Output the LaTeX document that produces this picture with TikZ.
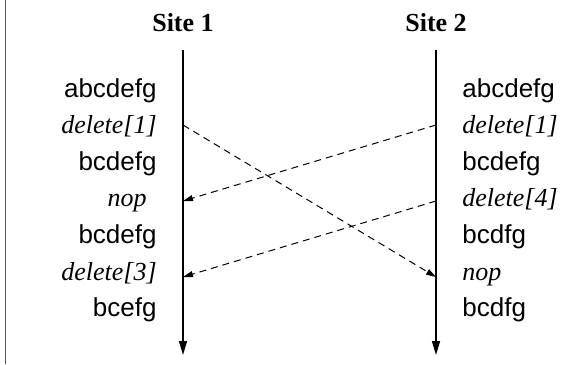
\documentclass[tikz,border=0pt]{standalone}
\usepackage{fontspec}
\setmainfont{Liberation Serif}
\setsansfont{Liberation Sans}
\usetikzlibrary{arrows.meta}
\begin{document}
\begin{tikzpicture}[x=0.5pt,y=-0.5pt,
  state/.style={inner sep=0pt,font=\sffamily\fontsize{13}{15}\selectfont},
  op/.style={inner sep=0pt,font=\itshape\fontsize{13}{15}\selectfont},
  title/.style={inner sep=0pt,font=\bfseries\fontsize{13}{15}\selectfont},
  timeline/.style={line width=0.75pt,-{Triangle[length=7pt,width=4pt]}},
  msg/.style={line width=0.5pt,dash pattern=on 3.5pt off 2.5pt,-{Triangle[length=5pt,width=3pt]}}]
\useasboundingbox (0,0) rectangle (566,364);
% frame edge on the left
\draw[line width=0.75pt,black!65] (5.5,0) -- (5.5,364);
% site headings
\node[title,anchor=base] (s1) at (183,32) {Site 1};
\node[title,anchor=base] (s2) at (436,32) {Site 2};
% time lines
\coordinate (t1) at (183,50);
\coordinate (b1) at (183,355);
\coordinate (t2) at (436,50);
\coordinate (b2) at (436,355);
\draw[timeline] (t1) -- (b1);
\draw[timeline] (t2) -- (b2);
% site 1 states and operations
\node[state,anchor=base east] (l1) at (157,97) {abcdefg};
\node[op,anchor=base east] (l2) at (157,133.6) {delete[1]};
\node[state,anchor=base east] (l3) at (157,170.2) {bcdefg};
\node[op,anchor=base east] (l4) at (147,206.8) {nop};
\node[state,anchor=base east] (l5) at (157,243.4) {bcdefg};
\node[op,anchor=base east] (l6) at (157,280) {delete[3]};
\node[state,anchor=base east] (l7) at (157,316.6) {bcefg};
% site 2 states and operations
\node[state,anchor=base west] (r1) at (462,97) {abcdefg};
\node[op,anchor=base west] (r2) at (462,133.6) {delete[1]};
\node[state,anchor=base west] (r3) at (462,170.2) {bcdefg};
\node[op,anchor=base west] (r4) at (462,206.8) {delete[4]};
\node[state,anchor=base west] (r5) at (462,243.4) {bcdfg};
\node[op,anchor=base west] (r6) at (462,280) {nop};
\node[state,anchor=base west] (r7) at (462,316.6) {bcdfg};
% message endpoints on the time lines
\coordinate (a1) at (183,125);
\coordinate (a2) at (183,201);
\coordinate (a3) at (183,277);
\coordinate (c1) at (436,125);
\coordinate (c2) at (436,201);
\coordinate (c3) at (436,277);
% operations sent between the sites
\draw[msg] (a1) -- (c3);
\draw[msg] (c1) -- (a2);
\draw[msg] (c2) -- (a3);
\end{tikzpicture}
\end{document}
